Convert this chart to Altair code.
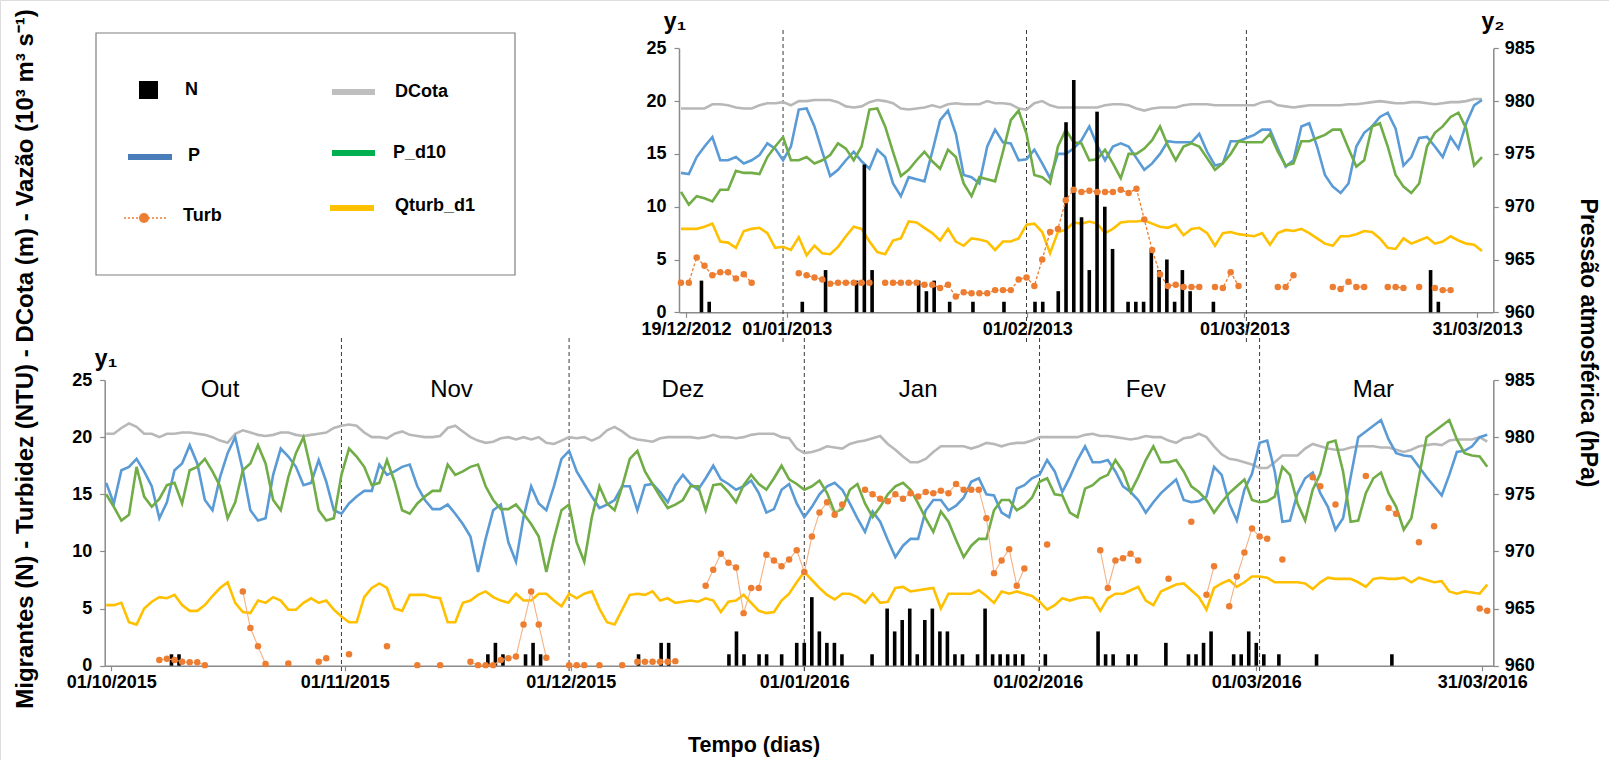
import altair as alt
import numpy as np
import pandas as pd

FONT = "Liberation Sans"
BLUE, GREEN, GRAY, YELLOW, ORANGE = "#5B9BD5", "#70AD47", "#B8B8B8", "#FFC000", "#ED7D31"

# ---------------- upper panel : 19/12/2012 - 31/03/2013 (daily) ----------------
TOP_START, TOP_END = "2012-12-19", "2013-03-31"
top_N = [0, 0, 3, 1, 0, 0, 0, 0, 0, 0,
         0, 0, 0, 0, 0, 1, 0, 0, 4, 0,
         0, 0, 3, 14, 4, 0, 0, 0, 0, 0,
         3, 2, 3, 0, 1, 0, 0, 1, 0, 0,
         0, 1, 0, 0, 0, 1, 1, 0, 2, 18,
         22, 9, 4, 19, 10, 6, 0, 1, 1, 1,
         6, 4, 5, 1, 4, 2, 0, 0, 1, 0,
         0, 0, 0, 0, 0, 0, 0, 0, 0, 0,
         0, 0, 0, 0, 0, 0, 0, 0, 0, 0,
         0, 0, 0, 0, 0, 0, 4, 1, 0, 0,
         0, 0, 0]
top_Turb = [2.8, 2.8, 5.2, 4.4, 3.5, 3.8, 3.8, 3.2, 3.6, 2.8,
            None, None, None, None, None, 3.7, 3.5, 3.3, 3.1, 2.7,
            2.8, 2.8, 2.8, 2.8, 2.8, None, 2.8, 2.8, 2.8, 2.8,
            2.8, 2.6, 2.6, 2.3, 2.6, 1.5, 1.9, 1.8, 1.8, 1.8,
            2.1, 2.1, 2.1, 3.1, 3.3, 2.5, 5.0, 7.6, 7.9, 10.6,
            11.6, 11.4, 11.5, 11.4, 11.4, 11.4, 11.6, 11.3, 11.7, 8.8,
            5.9, 3.6, 2.5, 2.6, 2.4, 2.4, 2.4, None, 2.4, 2.3,
            3.8, 2.5, None, None, None, None, 2.4, 2.4, 3.5, None,
            None, None, None, 2.4, 2.2, 2.9, 2.4, 2.4, None, None,
            2.4, 2.4, 2.3, None, 2.4, None, 2.3, 2.1, 2.1, None,
            None, None, None]
top_DCota = [19.3, 19.3, 19.3, 19.3, 19.7, 19.7, 19.6, 19.4, 19.3, 19.3,
             19.6, 19.8, 19.8, 19.9, 19.6, 20.0, 20.0, 20.1, 20.1, 20.1,
             19.9, 19.5, 19.4, 19.5, 19.9, 20.1, 20.0, 19.8, 19.3, 19.2,
             19.3, 19.4, 19.6, 19.4, 19.7, 19.8, 19.7, 19.7, 19.7, 20.0,
             19.8, 19.8, 19.7, 19.3, 19.2, 19.8, 20.0, 19.6, 19.4, 19.4,
             19.4, 19.4, 19.4, 19.4, 19.6, 19.7, 19.7, 19.6, 19.3, 19.1,
             19.3, 19.4, 19.4, 19.4, 19.6, 19.7, 19.7, 19.7, 19.6, 19.6,
             19.6, 19.6, 19.6, 19.6, 19.9, 20.0, 19.6, 19.5, 19.4, 19.5,
             19.6, 19.6, 19.6, 19.6, 19.6, 19.7, 19.7, 19.8, 19.9, 20.0,
             19.9, 19.8, 19.8, 19.9, 19.9, 19.8, 19.7, 19.8, 19.9, 19.9,
             20.0, 20.2, 20.2]
top_Qturb_d1 = [7.9, 7.9, 7.9, 8.1, 8.4, 6.7, 6.6, 6.1, 7.7, 7.9,
                8.0, 7.5, 6.1, 6.2, 5.9, 7.1, 5.4, 6.3, 5.6, 5.5,
                6.2, 7.2, 8.1, 7.9, 6.7, 5.7, 5.5, 6.8, 7.0, 8.6,
                8.5, 8.0, 7.5, 6.8, 7.9, 6.7, 6.3, 7.0, 6.9, 6.7,
                5.9, 6.7, 6.7, 7.0, 8.3, 8.4, 7.6, 5.6, 7.6, 7.8,
                8.5, 8.4, 8.6, 8.4, 7.5, 7.9, 8.5, 8.6, 8.6, 8.7,
                8.4, 8.1, 8.0, 8.3, 7.3, 7.9, 8.0, 7.5, 6.3, 7.5,
                7.6, 7.4, 7.3, 7.2, 7.5, 6.4, 7.5, 7.8, 7.7, 7.9,
                7.5, 7.0, 6.5, 6.3, 7.2, 7.2, 7.4, 7.7, 7.6, 7.0,
                6.1, 6.0, 7.0, 6.5, 6.8, 7.1, 6.5, 6.7, 7.2, 6.8,
                6.5, 6.4, 5.8]
top_P = [973.2, 973.1, 974.7, 975.7, 976.6, 974.4, 974.4, 974.7, 974.1, 974.4,
         974.9, 976.0, 975.5, 974.4, 975.7, 979.2, 979.3, 977.6, 975.2, 972.9,
         973.5, 974.4, 975.2, 974.3, 973.6, 975.4, 974.7, 972.2, 971.0, 972.8,
         972.6, 972.4, 975.2, 978.2, 979.1, 976.9, 973.0, 972.8, 972.2, 975.7,
         977.3, 976.1, 976.0, 974.4, 974.5, 975.4, 974.1, 972.7, 975.0, 975.0,
         975.5, 976.3, 977.6, 975.8, 974.4, 975.7, 976.0, 975.7, 974.6, 973.5,
         974.1, 975.0, 976.2, 976.1, 976.1, 976.1, 976.9, 975.2, 973.9, 974.1,
         976.2, 976.2, 976.5, 976.8, 977.3, 977.3, 975.5, 973.8, 974.4, 977.6,
         977.9, 975.7, 973.0, 971.9, 971.3, 972.2, 975.7, 977.0, 977.6, 978.5,
         978.9, 977.4, 973.9, 974.7, 976.5, 976.6, 975.7, 974.7, 976.6, 975.5,
         977.9, 979.6, 980.1]
top_P_d10 = [971.4, 970.2, 971.0, 970.8, 970.5, 971.6, 971.6, 973.4, 973.2,
             973.2, 973.1, 974.7, 975.7, 976.6, 974.4, 974.4, 974.7, 974.1, 974.4,
             974.9, 976.0, 975.5, 974.4, 975.7, 979.2, 979.3, 977.6, 975.2, 972.9,
             973.5, 974.4, 975.2, 974.3, 973.6, 975.4, 974.7, 972.2, 971.0, 972.8,
             972.6, 972.4, 975.2, 978.2, 979.1, 976.9, 973.0, 972.8, 972.2, 975.7,
             977.3, 976.1, 976.0, 974.4, 974.5, 975.4, 974.1, 972.7, 975.0, 975.0,
             975.5, 976.3, 977.6, 975.8, 974.4, 975.7, 976.0, 975.7, 974.6, 973.5,
             974.1, 975.0, 976.2, 976.1, 976.1, 976.1, 976.9, 975.2, 973.9, 974.1,
             976.2, 976.2, 976.5, 976.8, 977.3, 977.3, 975.5, 973.8, 974.4, 977.6,
             977.9, 975.7, 973.0, 971.9, 971.3, 972.2, 975.7, 977.0, 977.6, 978.5,
             978.9, 977.4, 973.9, 974.7]
TOP_TICKS = ["2012-12-19", "2013-01-01", "2013-02-01", "2013-03-01", "2013-03-31"]
TOP_SEPARATORS = ["2013-01-01", "2013-02-01", "2013-03-01"]

# ---------------- lower panel : 01/10/2015 - 31/03/2016 (daily) ----------------
BOT_START, BOT_END = "2015-10-01", "2016-03-31"
bot_N = [0, 0, 0, 0, 0, 0, 0, 0, 1, 1,
         0, 0, 0, 0, 0, 0, 0, 0, 0, 0,
         0, 0, 0, 0, 0, 0, 0, 0, 0, 0,
         0, 0, 0, 0, 0, 0, 0, 0, 0, 0,
         0, 0, 0, 0, 0, 0, 0, 0, 0, 0,
         1, 2, 1, 0, 0, 1, 2, 1, 0, 0,
         0, 0, 0, 0, 0, 0, 0, 0, 0, 0,
         1, 0, 0, 2, 2, 0, 0, 0, 0, 0,
         0, 0, 1, 3, 1, 0, 1, 1, 0, 1,
         0, 2, 2, 6, 3, 2, 2, 1, 0, 0,
         0, 1, 0, 5, 3, 4, 5, 1, 4, 5,
         3, 3, 1, 1, 0, 1, 5, 1, 1, 1,
         1, 1, 0, 0, 1, 0, 0, 0, 0, 0,
         0, 3, 1, 1, 0, 1, 1, 0, 0, 0,
         2, 0, 0, 1, 1, 2, 3, 0, 0, 1,
         1, 3, 2, 1, 0, 1, 0, 0, 0, 0,
         1, 0, 0, 0, 0, 0, 0, 0, 0, 0,
         1, 0, 0, 0, 0, 0, 0, 0, 0, 0,
         0, 0, 0]
bot_Turb = [None, None, None, None, None, None, None, 0.5, 0.6, 0.5,
            0.35, 0.3, 0.3, 0.05, None, None, None, None, 6.5, 3.3,
            1.7, 0.15, None, None, 0.2, None, None, None, 0.35, 0.65,
            None, None, 1.0, None, None, None, None, 1.7, None, None,
            None, 0.05, None, None, 0.05, None, None, None, 0.35, 0.05,
            0.05, 0.05, 0.5, 0.65, 0.8, 3.6, 6.5, 3.6, 0.7, None,
            None, 0.05, 0.05, 0.05, None, 0.05, None, None, 0.05, None,
            0.35, 0.35, 0.35, 0.35, 0.35, 0.4, None, None, None, 7.0,
            8.4, 9.8, 9.0, 8.6, 4.6, 6.8, 6.8, 9.7, 9.2, 8.7,
            9.3, 10.1, 8.2, 11.3, 13.4, 14.3, 13.2, 14.1, None, None,
            15.4, 15.0, 14.6, 14.4, 15.0, 14.6, 15.1, 14.8, 15.2, 15.1,
            15.3, 15.1, 15.9, 15.4, 15.4, 15.4, 12.9, 8.1, 9.2, 10.2,
            7.0, 8.5, None, None, 10.6, None, None, None, None, None,
            None, 10.1, 6.8, 9.2, 9.4, 9.8, 9.2, None, None, None,
            7.6, None, None, 12.6, None, 6.2, 8.7, None, 5.2, 7.8,
            9.9, 12.0, 11.3, 11.1, None, 9.3, None, None, None, 16.5,
            15.7, None, 14.1, None, None, None, 16.6, None, None, 13.8,
            13.3, None, None, 10.8, None, 12.2, None, None, None, None,
            None, 5.0, 4.8]
bot_DCota = [20.3, 20.3, 20.8, 21.2, 20.9, 20.3, 20.3, 20.0, 20.3, 20.3,
             20.4, 20.4, 20.3, 20.2, 20.0, 19.7, 19.5, 20.3, 20.6, 20.4,
             20.2, 20.1, 20.2, 20.4, 20.4, 20.2, 20.1, 20.2, 20.3, 20.4,
             20.8, 21.0, 21.1, 21.0, 20.4, 20.0, 20.0, 19.9, 20.3, 20.5,
             20.2, 20.1, 20.0, 20.0, 20.1, 20.8, 21.0, 20.5, 20.0, 19.7,
             19.5, 19.6, 19.9, 20.0, 19.8, 20.0, 19.8, 20.0, 19.5, 19.4,
             19.7, 20.0, 19.9, 20.0, 19.7, 20.0, 20.6, 20.9, 20.5, 20.0,
             19.8, 19.7, 19.6, 19.9, 20.0, 20.0, 20.0, 20.0, 19.9, 20.0,
             20.2, 20.0, 20.0, 19.9, 20.0, 20.2, 20.3, 20.3, 20.3, 20.0,
             19.9, 19.0, 18.6, 18.7, 18.9, 19.2, 19.1, 19.0, 19.4, 19.6,
             19.7, 19.9, 20.1, 19.4, 18.9, 18.3, 17.8, 17.8, 18.1, 18.7,
             19.2, 19.2, 19.2, 19.2, 19.0, 19.2, 19.5, 19.4, 19.2, 19.4,
             19.5, 19.5, 19.7, 20.0, 20.0, 20.0, 20.0, 20.0, 20.0, 20.2,
             20.3, 20.1, 20.1, 20.0, 19.9, 19.8, 19.9, 20.1, 20.0, 20.0,
             19.7, 19.5, 19.9, 20.0, 20.3, 20.0, 19.2, 18.5, 18.1, 18.0,
             17.8, 17.6, 17.3, 17.3, 17.8, 18.4, 18.4, 18.4, 19.0, 19.4,
             19.2, 19.0, 18.9, 18.9, 19.1, 19.2, 19.2, 19.2, 19.1, 19.1,
             18.9, 18.7, 18.9, 19.2, 19.3, 19.4, 19.3, 19.7, 19.8, 19.8,
             19.8, 20.0, 19.6]
bot_Qturb_d1 = [5.3, 5.3, 5.5, 3.8, 3.6, 5.0, 5.6, 6.0, 5.9, 6.2,
                5.3, 4.8, 4.8, 5.3, 6.1, 6.8, 7.3, 5.5, 4.7, 4.6,
                5.7, 5.5, 6.0, 5.7, 4.9, 4.9, 5.5, 5.9, 5.5, 5.7,
                4.9, 4.3, 3.8, 3.8, 6.0, 6.8, 7.2, 6.8, 5.0, 4.8,
                6.2, 6.2, 6.2, 6.0, 5.9, 3.8, 3.8, 5.5, 5.7, 6.2,
                6.5, 6.0, 5.7, 5.5, 6.3, 5.7, 5.7, 6.3, 6.3, 5.7,
                5.2, 6.3, 5.9, 6.3, 6.5, 5.0, 3.8, 3.6, 4.9, 6.2,
                6.3, 6.2, 6.5, 5.7, 5.9, 5.5, 5.6, 5.7, 5.6, 5.9,
                5.7, 4.7, 5.6, 5.7, 6.2, 5.5, 4.8, 4.6, 4.7, 5.7,
                6.3, 7.3, 8.2, 7.5, 6.8, 6.2, 5.8, 6.3, 6.3, 6.0,
                5.5, 6.3, 5.5, 5.6, 6.8, 6.9, 6.5, 6.6, 6.7, 6.8,
                5.0, 6.3, 6.3, 6.3, 6.3, 6.6, 6.1, 5.5, 6.5, 6.3,
                6.5, 6.3, 6.1, 5.6, 4.9, 5.3, 5.9, 5.7, 5.9, 6.0,
                5.9, 4.8, 5.9, 6.3, 6.3, 6.6, 6.9, 5.7, 5.3, 6.5,
                6.8, 7.1, 7.2, 6.6, 6.0, 4.9, 6.8, 7.2, 7.5, 6.9,
                7.3, 7.8, 7.8, 7.7, 7.3, 7.3, 7.3, 7.3, 7.2, 6.7,
                7.3, 7.7, 7.6, 7.6, 7.6, 7.3, 6.9, 7.6, 7.7, 7.6,
                7.6, 7.7, 7.3, 7.7, 7.5, 7.3, 7.4, 6.5, 6.3, 6.5,
                6.4, 6.3, 7.1]
bot_P = [976.0, 974.2, 977.1, 977.4, 978.1, 977.0, 975.7, 972.9, 974.3, 977.1,
         977.7, 979.3, 977.7, 974.5, 973.6, 976.5, 978.6, 980.0, 977.1, 973.6,
         972.7, 972.9, 976.7, 979.0, 978.3, 977.4, 975.8, 976.0, 978.0, 976.1,
         973.6, 973.3, 974.2, 974.8, 975.3, 975.3, 977.6, 976.7, 977.0, 977.4,
         977.6, 975.7, 974.5, 973.7, 973.7, 974.1, 973.3, 972.4, 971.3, 968.2,
         971.1, 973.6, 974.1, 970.8, 969.1, 973.0, 975.7, 974.2, 973.6, 975.7,
         978.1, 978.8, 977.0, 975.9, 974.8, 973.8, 974.1, 974.5, 975.7, 975.7,
         973.6, 975.8, 975.9, 975.2, 974.3, 975.8, 976.7, 975.9, 975.4, 976.4,
         977.5, 976.3, 975.9, 975.4, 975.7, 976.2, 975.1, 973.4, 973.7, 975.4,
         975.9, 974.2, 973.0, 973.9, 975.0, 975.7, 976.0, 975.4, 974.2, 972.9,
         971.7, 973.5, 972.6, 971.0, 969.5, 970.5, 971.1, 971.1, 973.6, 974.5,
         974.5, 973.6, 974.0, 974.7, 976.1, 976.4, 975.0, 974.9, 973.4, 973.0,
         975.5, 975.8, 976.4, 976.7, 978.0, 977.0, 975.2, 976.5, 978.0, 979.2,
         977.8, 977.8, 978.0, 977.0, 975.7, 975.2, 974.5, 973.4, 974.3, 975.1,
         975.7, 976.3, 974.5, 974.3, 974.4, 974.8, 977.4, 976.7, 974.2, 972.7,
         975.4, 976.8, 979.5, 979.7, 977.0, 972.6, 972.7, 975.1, 976.4, 976.9,
         975.1, 973.9, 971.9, 972.9, 976.5, 980.0, 980.5, 981.0, 981.5, 979.8,
         978.6, 978.4, 978.3, 977.4, 976.5, 975.7, 974.9, 976.7, 978.7, 978.8,
         979.2, 980.0, 980.2]
bot_P_d10 = [975.0, 973.9, 972.7, 973.2, 977.4, 974.8, 973.9, 974.6, 975.8,
             976.0, 974.2, 977.1, 977.4, 978.1, 977.0, 975.7, 972.9, 974.3, 977.1,
             977.7, 979.3, 977.7, 974.5, 973.6, 976.5, 978.6, 980.0, 977.1, 973.6,
             972.7, 972.9, 976.7, 979.0, 978.3, 977.4, 975.8, 976.0, 978.0, 976.1,
             973.6, 973.3, 974.2, 974.8, 975.3, 975.3, 977.6, 976.7, 977.0, 977.4,
             977.6, 975.7, 974.5, 973.7, 973.7, 974.1, 973.3, 972.4, 971.3, 968.2,
             971.1, 973.6, 974.1, 970.8, 969.1, 973.0, 975.7, 974.2, 973.6, 975.7,
             978.1, 978.8, 977.0, 975.9, 974.8, 973.8, 974.1, 974.5, 975.7, 975.7,
             973.6, 975.8, 975.9, 975.2, 974.3, 975.8, 976.7, 975.9, 975.4, 976.4,
             977.5, 976.3, 975.9, 975.4, 975.7, 976.2, 975.1, 973.4, 973.7, 975.4,
             975.9, 974.2, 973.0, 973.9, 975.0, 975.7, 976.0, 975.4, 974.2, 972.9,
             971.7, 973.5, 972.6, 971.0, 969.5, 970.5, 971.1, 971.1, 973.6, 974.5,
             974.5, 973.6, 974.0, 974.7, 976.1, 976.4, 975.0, 974.9, 973.4, 973.0,
             975.5, 975.8, 976.4, 976.7, 978.0, 977.0, 975.2, 976.5, 978.0, 979.2,
             977.8, 977.8, 978.0, 977.0, 975.7, 975.2, 974.5, 973.4, 974.3, 975.1,
             975.7, 976.3, 974.5, 974.3, 974.4, 974.8, 977.4, 976.7, 974.2, 972.7,
             975.4, 976.8, 979.5, 979.7, 977.0, 972.6, 972.7, 975.1, 976.4, 976.9,
             975.1, 973.9, 971.9, 972.9, 976.5, 980.0, 980.5, 981.0, 981.5, 979.8,
             978.6, 978.4, 978.3, 977.4]
BOT_TICKS = ["2015-10-01", "2015-11-01", "2015-12-01", "2016-01-01", "2016-02-01", "2016-03-01", "2016-03-31"]
BOT_SEPARATORS = ["2015-11-01", "2015-12-01", "2016-01-01", "2016-02-01", "2016-03-01"]
MONTH_NAMES = ["Out", "Nov", "Dez", "Jan", "Fev", "Mar"]
MONTH_STARTS = ["2015-10-01", "2015-11-01", "2015-12-01", "2016-01-01", "2016-02-01", "2016-03-01", "2016-04-01"]

LEFT_TITLE = "Migrantes (N) - Turbidez (NTU) - DCota (m) - Vazão (10³ m³ s⁻¹)"
RIGHT_TITLE = "Pressão atmosférica (hPa)"
X_TITLE = "Tempo (dias)"


# ---------------- helpers ----------------
def day_of(start, dates):
    return [int((pd.Timestamp(d) - pd.Timestamp(start)).days) for d in dates]


def frame(start, end, **cols):
    dates = pd.date_range(start, end, freq="D")
    df = pd.DataFrame(cols)
    df.insert(0, "day", np.arange(len(dates)))
    return df


def sc(domain, rng):
    return alt.Scale(domain=domain, range=rng, nice=False, zero=False)


def label_expr(vals, labels):
    e = "''"
    for v, l in zip(reversed(vals), reversed(labels)):
        e = f"datum.value == {v} ? '{l}' : {e}"
    return e


def ax(orient, offset, values, **kw):
    base = dict(orient=orient, offset=offset, values=values, grid=False, title=None,
                domainColor="#8a8a8a", domainWidth=1.5, tickColor="#8a8a8a", tickWidth=1.2,
                tickSize=5, labelFont=FONT, labelFontSize=18, labelFontWeight="bold",
                labelColor="black", labelFlush=False, labelOverlap=False)
    base.update(kw)
    return alt.Axis(**base)


W, H = 1609, 760
one = pd.DataFrame({"k": [0]})


def panel(df, start, ticks, seps, X, Y1, Y2, x_off, y1_off, y2_off, rule_y, turb_line):
    tick_days = day_of(start, ticks)
    tick_labels = [pd.Timestamp(t).strftime("%d/%m/%Y") for t in ticks]
    layers = []
    layers.append(
        alt.Chart(pd.DataFrame({"day": day_of(start, seps)}))
        .mark_rule(color="#3a3a3a", strokeWidth=1, strokeDash=[4, 3])
        .encode(x=alt.X("day:Q", scale=X, axis=None), y=alt.value(rule_y[0]), y2=alt.value(rule_y[1]))
    )
    for field, color, ys in [("DCota", GRAY, Y1), ("Qturb_d1", YELLOW, Y1)]:
        layers.append(
            alt.Chart(df).mark_line(color=color, strokeWidth=2.6)
            .encode(x=alt.X("day:Q", scale=X, axis=None), y=alt.Y(f"{field}:Q", scale=ys, axis=None))
        )
    layers.append(
        alt.Chart(df).mark_line(color=BLUE, strokeWidth=2.6)
        .encode(x=alt.X("day:Q", scale=X, axis=None),
                y=alt.Y("P:Q", scale=Y2,
                        axis=ax("right", y2_off, [960, 965, 970, 975, 980, 985], labelPadding=6)))
    )
    layers.append(
        alt.Chart(df).mark_line(color=GREEN, strokeWidth=2.6)
        .encode(x=alt.X("day:Q", scale=X, axis=None), y=alt.Y("P_d10:Q", scale=Y2, axis=None))
    )
    layers.append(
        alt.Chart(df[df["N"] > 0]).mark_bar(color="black", size=3.6)
        .encode(x=alt.X("day:Q", scale=X,
                        axis=ax("bottom", x_off, tick_days, labelExpr=label_expr(tick_days, tick_labels),
                                labelPadding=3)),
                y=alt.Y("N:Q", scale=Y1, axis=ax("left", y1_off, [0, 5, 10, 15, 20, 25], labelPadding=8)))
    )
    t = df[["day", "Turb"]].copy()
    t["seg"] = t["Turb"].isna().cumsum()
    t = t.dropna()
    layers.append(
        alt.Chart(t).mark_line(**turb_line)
        .encode(x=alt.X("day:Q", scale=X, axis=None), y=alt.Y("Turb:Q", scale=Y1, axis=None),
                detail="seg:N")
    )
    layers.append(
        alt.Chart(t).mark_circle(color=ORANGE, size=42, opacity=1)
        .encode(x=alt.X("day:Q", scale=X, axis=None), y=alt.Y("Turb:Q", scale=Y1, axis=None))
    )
    return layers


top = frame(TOP_START, TOP_END, N=top_N, Turb=top_Turb, DCota=top_DCota,
            Qturb_d1=top_Qturb_d1, P=top_P, P_d10=top_P_d10)
bot = frame(BOT_START, BOT_END, N=bot_N, Turb=bot_Turb, DCota=bot_DCota,
            Qturb_d1=bot_Qturb_d1, P=bot_P, P_d10=bot_P_d10)

# pixel placement of the two panels inside the 1609x760 canvas
XT = sc([-0.25, 103.44], [679.0, 1493.3])
YT1 = sc([0, 25], [312.3, 48.3])
YT2 = sc([960, 985], [312.3, 48.3])
XB = sc([-0.2, 182.8], [104.7, 1493.3])
YB1 = sc([0, 25], [665.7, 380.0])
YB2 = sc([960, 985], [665.7, 380.0])

layers = []
layers += panel(bot, BOT_START, BOT_TICKS, BOT_SEPARATORS, XB, YB1, YB2,
                x_off=-(H - 665.7), y1_off=-104.7, y2_off=-(W - 1493.3), rule_y=(338, 672),
                turb_line=dict(color="#F4B183", strokeWidth=1.1))
layers += panel(top, TOP_START, TOP_TICKS, TOP_SEPARATORS, XT, YT1, YT2,
                x_off=-(H - 312.3), y1_off=-679.0, y2_off=-(W - 1493.3), rule_y=(30, 342),
                turb_line=dict(color=ORANGE, strokeWidth=1.3, strokeDash=[3, 2]))

# month names centred on each month of the lower panel
ms = day_of(BOT_START, MONTH_STARTS)
months = pd.DataFrame({"mid": [(a + b - 1) / 2 for a, b in zip(ms[:-1], ms[1:])], "name": MONTH_NAMES})
layers.append(
    alt.Chart(months).mark_text(font=FONT, fontSize=24, color="black", baseline="middle")
    .encode(x=alt.X("mid:Q", scale=XB, axis=None), y=alt.value(390), text="name:N")
)


def txt(s, x, y, size, weight="bold", angle=0, align="center", baseline="middle"):
    return alt.Chart(one).mark_text(text=s, font=FONT, fontSize=size, fontWeight=weight, angle=angle,
                                    align=align, baseline=baseline, color="black").encode(
        x=alt.value(x), y=alt.value(y))


layers += [
    txt(LEFT_TITLE, 26, 359, 24, angle=270),
    txt(RIGHT_TITLE, 1588, 343, 23, angle=90),
    txt(X_TITLE, 754, 746, 21.5),
    txt("y₁", 675, 22, 23),
    txt("y₂", 1493, 22, 23),
    txt("y₁", 106, 359, 23),
]

# legend box
layers.append(alt.Chart(one).mark_rect(fillOpacity=0, stroke="#7f7f7f", strokeWidth=1.2).encode(
    x=alt.value(96), x2=alt.value(515), y=alt.value(33), y2=alt.value(275)))
layers.append(alt.Chart(one).mark_rect(color="black").encode(
    x=alt.value(139), x2=alt.value(158), y=alt.value(81), y2=alt.value(99)))
legend_lines = [
    (128, 172, 157, "#4A7EBB"),
    (332, 375, 92, "#BFBFBF"),
    (332, 375, 153, "#00B050"),
    (330, 374, 208, YELLOW),
]
for x1, x2, y, c in legend_lines:
    layers.append(alt.Chart(one).mark_rule(color=c, strokeWidth=6).encode(
        x=alt.value(x1), x2=alt.value(x2), y=alt.value(y)))
layers.append(alt.Chart(one).mark_rule(color=ORANGE, strokeWidth=1.5, strokeDash=[2, 2]).encode(
    x=alt.value(124), x2=alt.value(167), y=alt.value(218)))
layers.append(alt.Chart(one).mark_circle(color=ORANGE, size=100, opacity=1).encode(
    x=alt.value(144), y=alt.value(218)))
for s, x, y in [("N", 185, 90), ("P", 188, 156), ("Turb", 183, 216),
                ("DCota", 395, 92), ("P_d10", 393, 153), ("Qturb_d1", 395, 206)]:
    layers.append(txt(s, x, y, 18, align="left"))

chart = (
    alt.layer(*layers)
    .resolve_scale(x="independent", y="independent")
    .properties(width=W, height=H, autosize=alt.AutoSizeParams(type="none"), padding=0)
    .configure_view(stroke=None)
    .configure(background="white")
)

chart.save("out.html", embed_options={"renderer": "svg", "actions": False})
